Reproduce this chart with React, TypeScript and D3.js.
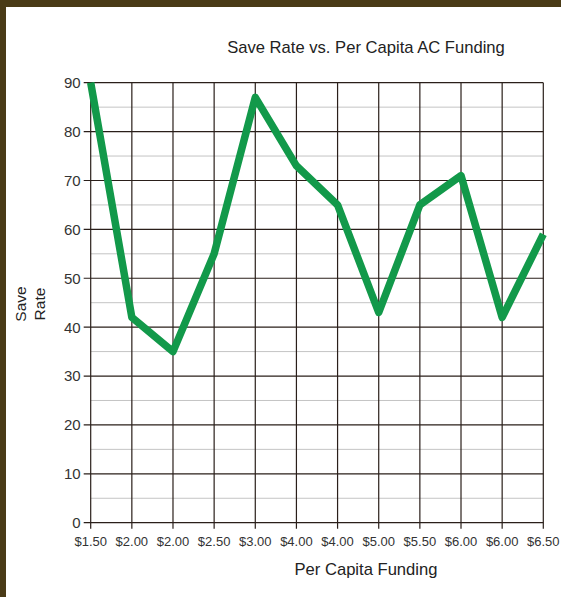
import React, { useEffect } from 'react';
import * as d3 from 'd3';

// funding labels as printed on the x axis (duplicates are in the source)
const fundingLabels = ['$1.50', '$2.00', '$2.00', '$2.50', '$3.00', '$4.00', '$4.00', '$5.00', '$5.50', '$6.00', '$6.00', '$6.50'];
const saveRates = [90, 42, 35, 55, 87, 73, 65, 43, 65, 71, 42, 59];
const yTicks = [0, 10, 20, 30, 40, 50, 60, 70, 80, 90];
const yMinor = [5, 15, 25, 35, 45, 55, 65, 75, 85];

const W = 561;
const H = 597;

const App: React.FC = () => {
  useEffect(() => {
    document.body.style.margin = '0';
  }, []);

  const x = d3.scaleLinear().domain([0, fundingLabels.length - 1]).range([90.7, 543.3]);
  const y = d3.scaleLinear().domain([0, 90]).range([522.7, 82.7]);

  const line = d3.line<number>()
    .x((_, i) => x(i))
    .y(d => y(d));

  const font = 'Arial, "Liberation Sans", Helvetica, sans-serif';

  return (
    <svg width={W} height={H} style={{ display: 'block' }} fontFamily={font}>
      <rect x={0} y={0} width={W} height={H} fill="#4a3b17" />
      <rect x={6} y={7} width={W - 6} height={H - 7} fill="#ffffff" />

      <text x={366} y={53} textAnchor="middle" fontSize={16.6} fill="#222">
        Save Rate vs. Per Capita AC Funding
      </text>

      {/* minor gridlines */}
      {yMinor.map(v => (
        <line key={'m' + v} x1={x(0)} x2={x(fundingLabels.length - 1)} y1={y(v)} y2={y(v)} stroke="#c4c4c4" strokeWidth={1} />
      ))}
      {/* vertical gridlines */}
      {fundingLabels.map((_, i) => (
        <line key={'v' + i} x1={x(i)} x2={x(i)} y1={y(90)} y2={y(0) + 6} stroke="#2a1f1a" strokeWidth={1.2} />
      ))}
      {/* major gridlines */}
      {yTicks.map(v => (
        <line key={'h' + v} x1={x(0) - 7} x2={x(fundingLabels.length - 1)} y1={y(v)} y2={y(v)} stroke="#2a1f1a" strokeWidth={1.2} />
      ))}

      {yTicks.map(v => (
        <text key={'yl' + v} x={x(0) - 10} y={y(v)} dy="0.36em" textAnchor="end" fontSize={15} fill="#333">
          {v}
        </text>
      ))}

      {fundingLabels.map((l, i) => (
        <text key={'xl' + i} x={x(i)} y={546} textAnchor="middle" fontSize={13} fill="#333">
          {l}
        </text>
      ))}

      <text x={366} y={575} textAnchor="middle" fontSize={16.6} fill="#222">Per Capita Funding</text>

      <g transform="translate(26,304) rotate(-90)">
        <text x={0} y={0} textAnchor="middle" fontSize={15.5} fill="#222">Save</text>
      </g>
      <g transform="translate(45,304) rotate(-90)">
        <text x={0} y={0} textAnchor="middle" fontSize={15.5} fill="#222">Rate</text>
      </g>

      <path d={line(saveRates) || ''} fill="none" stroke="#12994a" strokeWidth={7.5} strokeLinejoin="round" strokeLinecap="butt" />
    </svg>
  );
};

export default App;
